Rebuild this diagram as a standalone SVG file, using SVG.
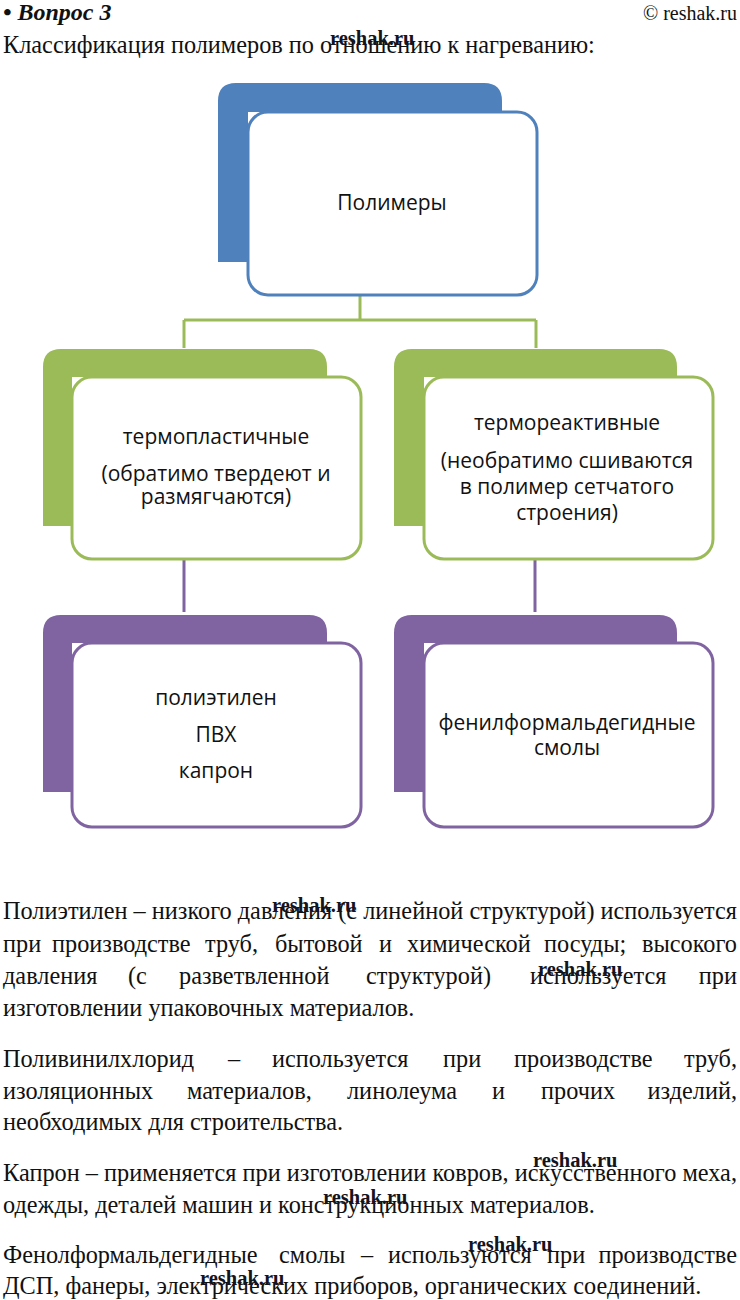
<svg xmlns="http://www.w3.org/2000/svg" width="740" height="1300" viewBox="0 0 740 1300">
<style>
.body{font-family:"Liberation Serif","Times New Roman",serif;font-size:24.3px;fill:#111}
.wm{font-family:"Liberation Serif","Times New Roman",serif;font-size:20.5px;font-weight:bold;fill:#141420}
.nt{font-family:"Open Sans","Noto Sans",sans-serif;font-size:21px;fill:#111;text-anchor:middle}
.front{fill:#fff;stroke-width:3}
.blue{fill:#4F81BD}.green{fill:#9BBB59}.purple{fill:#8064A2}
.sblue{stroke:#4F81BD}.sgreen{stroke:#9BBB59}.spurple{stroke:#8064A2}
.conn{fill:none;stroke-width:3}
</style>
<rect width="740" height="1300" fill="#fff"/>
<text x="3" y="20" style="font-family:'Liberation Serif',serif;font-size:24px;font-weight:bold;font-style:italic;fill:#111">• Вопрос 3</text>
<text x="737" y="20" text-anchor="end" style="font-family:'Liberation Serif',serif;font-size:20px;fill:#111">© reshak.ru</text>
<text class="body" x="3" y="53">Классификация полимеров по отношению к нагреванию:</text>
<text class="wm" x="330" y="45">reshak.ru</text>

<g id="connectors">
<path class="conn sgreen" d="M360,295 V320 M184,320 H536 M184,320 V348 M536,320 V348"/>
<path class="conn spurple" d="M184,560 V612 M535,560 V612"/>
</g>

<g id="node-polymers">
<path class="blue" d="M218,262 V101 Q218,83 236,83 H484 Q502,83 502,101 V112 H248 V262 Z"/>
<rect class="front sblue" x="248" y="112" width="289" height="183" rx="20"/>
<text class="nt" x="392" y="210">Полимеры</text>
</g>

<g id="node-thermoplastic">
<path class="green" d="M43,526 V367 Q43,349 61,349 H309 Q327,349 327,367 V377 H72 V526 Z"/>
<rect class="front sgreen" x="72" y="377" width="289" height="182" rx="20"/>
<text class="nt" x="216" y="444">термопластичные</text>
<text class="nt" x="216" y="481">(обратимо твердеют и</text>
<text class="nt" x="216" y="504">размягчаются)</text>
</g>

<g id="node-thermoset">
<path class="green" d="M394,526 V367 Q394,349 412,349 H659 Q677,349 677,367 V377 H424 V526 Z"/>
<rect class="front sgreen" x="424" y="377" width="289" height="182" rx="20"/>
<text class="nt" x="567" y="430">термореактивные</text>
<text class="nt" x="567" y="468">(необратимо сшиваются</text>
<text class="nt" x="567" y="494">в полимер сетчатого</text>
<text class="nt" x="567" y="520">строения)</text>
</g>

<g id="node-thermoplastic-examples">
<path class="purple" d="M43,792 V633 Q43,615 61,615 H309 Q327,615 327,633 V643 H72 V792 Z"/>
<rect class="front spurple" x="72" y="643" width="289" height="184" rx="20"/>
<text class="nt" x="216" y="705">полиэтилен</text>
<text class="nt" x="216" y="742">ПВХ</text>
<text class="nt" x="216" y="778">капрон</text>
</g>

<g id="node-thermoset-examples">
<path class="purple" d="M394,792 V633 Q394,615 412,615 H659 Q677,615 677,633 V643 H424 V792 Z"/>
<rect class="front spurple" x="424" y="643" width="289" height="184" rx="20"/>
<text class="nt" x="567" y="730">фенилформальдегидные</text>
<text class="nt" x="567" y="755">смолы</text>
</g>

<g id="text-body">
<text class="body" x="3" y="919" textLength="734" lengthAdjust="spacing">Полиэтилен – низкого давления (с линейной структурой) используется</text>
<text class="body" y="952"><tspan x="3">при</tspan><tspan x="52">производстве</tspan><tspan x="205">труб,</tspan><tspan x="275">бытовой</tspan><tspan x="379">и</tspan><tspan x="407">химической</tspan><tspan x="544">посуды;</tspan></text>
<text class="body" x="737" y="952" text-anchor="end">высокого</text>
<text class="body" y="984"><tspan x="3">давления</tspan><tspan x="128">(с</tspan><tspan x="179">разветвленной</tspan><tspan x="366">структурой)</tspan><tspan x="530">используется</tspan></text>
<text class="body" x="737" y="984" text-anchor="end">при</text>
<text class="body" x="3" y="1016">изготовлении упаковочных материалов.</text>

<text class="body" y="1067"><tspan x="3">Поливинилхлорид</tspan><tspan x="228">–</tspan><tspan x="272">используется</tspan><tspan x="443">при</tspan><tspan x="514">производстве</tspan></text>
<text class="body" x="737" y="1067" text-anchor="end">труб,</text>
<text class="body" y="1099"><tspan x="3">изоляционных</tspan><tspan x="187">материалов,</tspan><tspan x="347">линолеума</tspan><tspan x="492">и</tspan><tspan x="541">прочих</tspan></text>
<text class="body" x="737" y="1099" text-anchor="end">изделий,</text>
<text class="body" x="3" y="1130">необходимых для строительства.</text>

<text class="body" x="3" y="1181" textLength="734" lengthAdjust="spacing">Капрон – применяется при изготовлении ковров, искусственного меха,</text>
<text class="body" x="3" y="1213">одежды, деталей машин и конструкционных материалов.</text>

<text class="body" y="1263"><tspan x="3">Фенолформальдегидные</tspan><tspan x="279">смолы</tspan><tspan x="361">–</tspan><tspan x="388">используются</tspan><tspan x="547">при</tspan></text>
<text class="body" x="737" y="1263" text-anchor="end">производстве</text>
<text class="body" x="3" y="1294">ДСП, фанеры, электрических приборов, органических соединений.</text>
</g>

<g id="watermarks">
<text class="wm" x="272" y="912">reshak.ru</text>
<text class="wm" x="538" y="976">reshak.ru</text>
<text class="wm" x="533" y="1167">reshak.ru</text>
<text class="wm" x="323" y="1204">reshak.ru</text>
<text class="wm" x="468" y="1251">reshak.ru</text>
<text class="wm" x="200" y="1285">reshak.ru</text>
</g>
</svg>
